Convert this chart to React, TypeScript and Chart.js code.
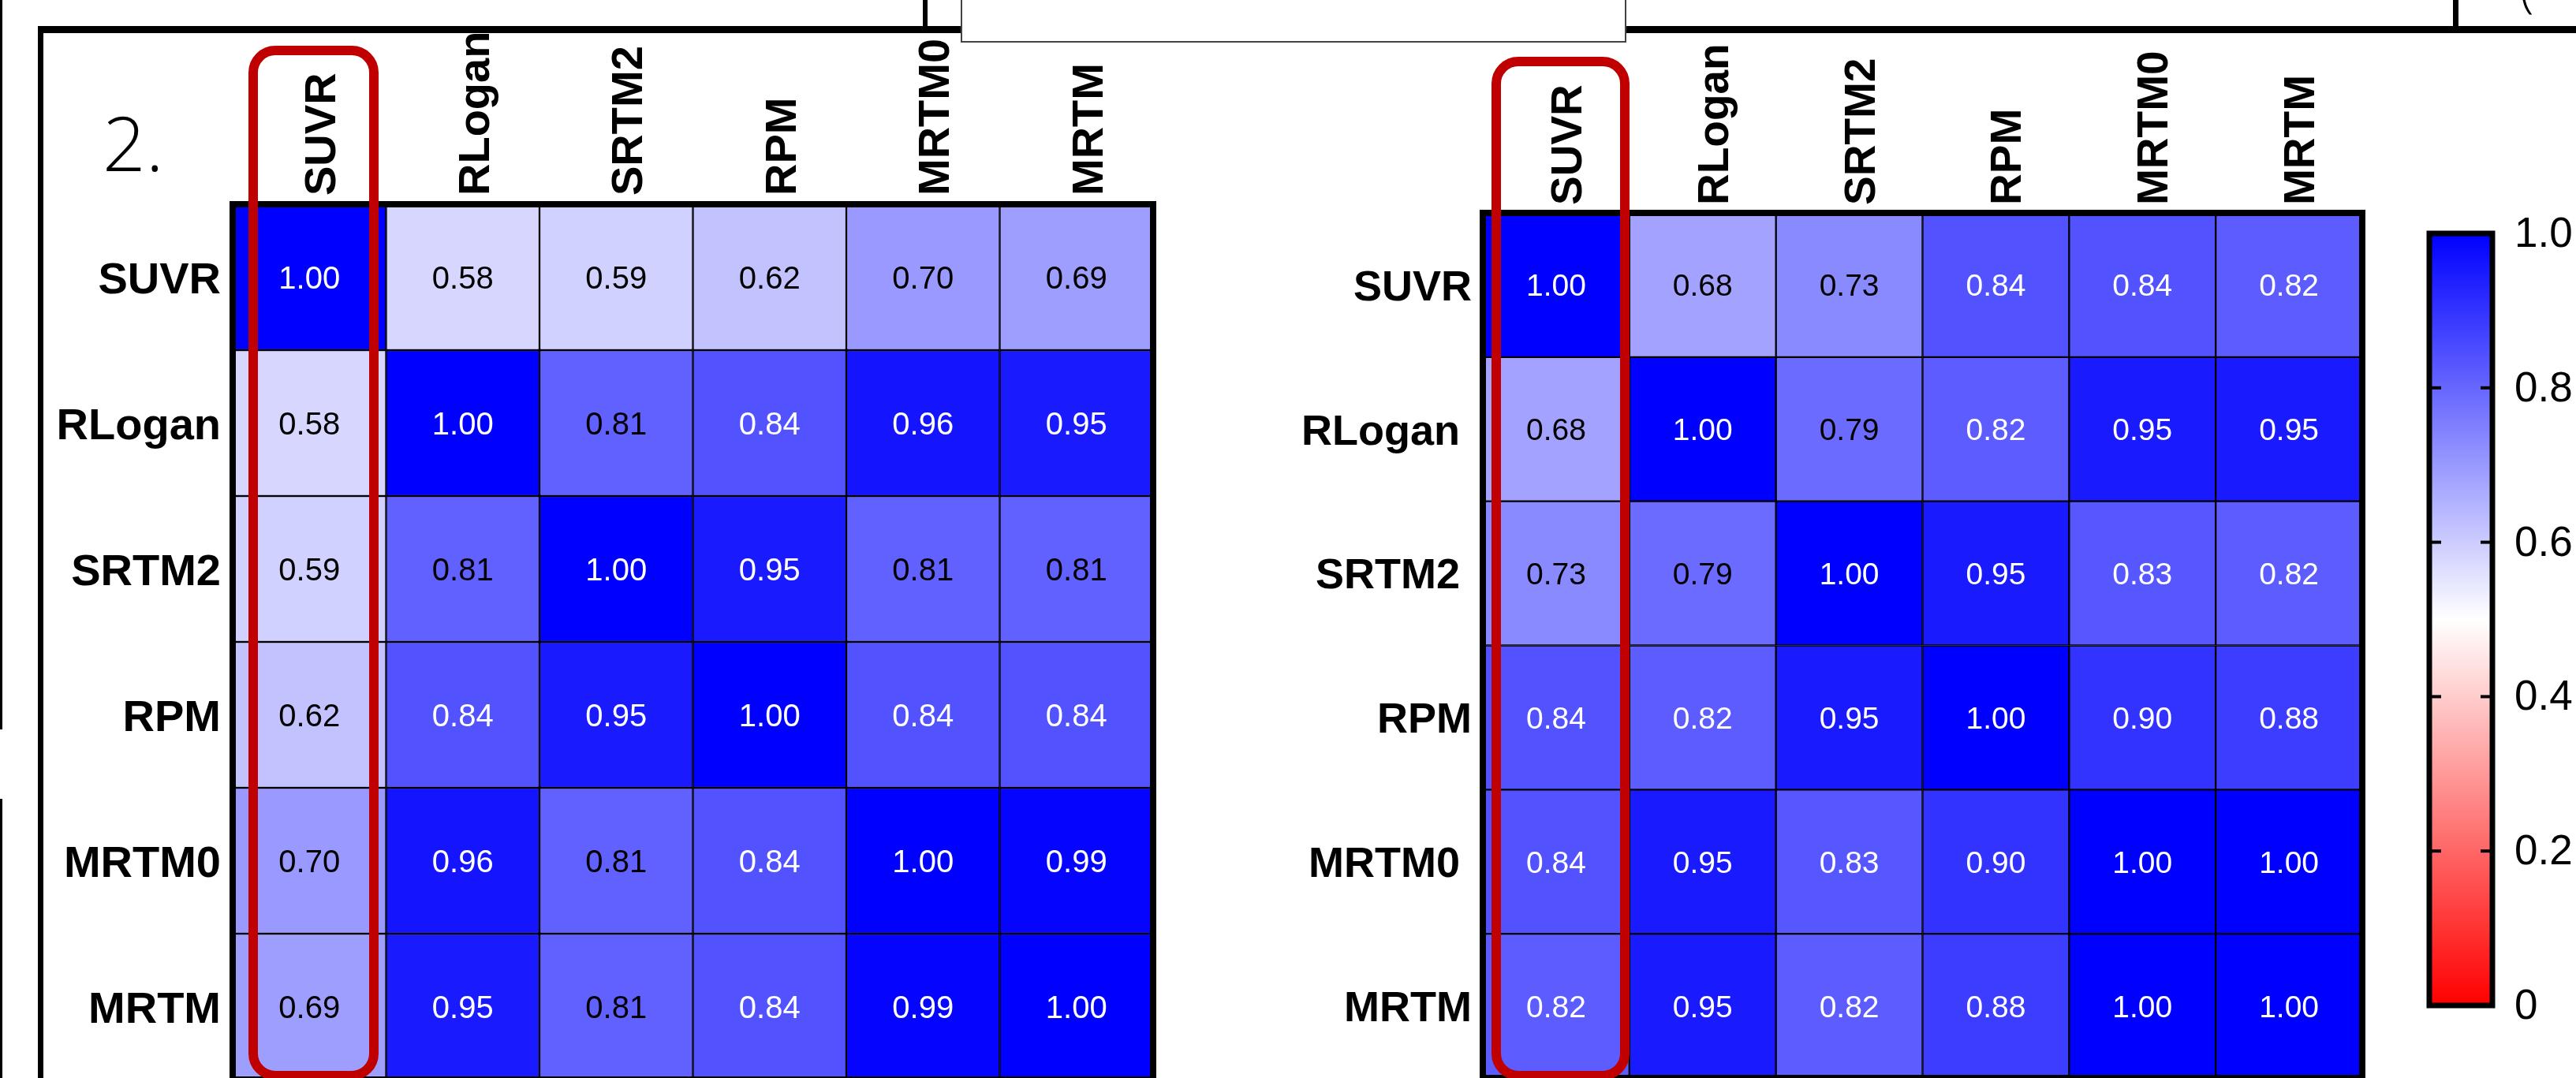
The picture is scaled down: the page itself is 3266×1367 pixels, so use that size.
import React, { useEffect, useRef } from 'react';
import { Chart, registerables } from 'chart.js';

Chart.register(...registerables);

// ---------- data ----------
const methods = ['SUVR', 'RLogan', 'SRTM2', 'RPM', 'MRTM0', 'MRTM'];
const rowLabelsLeft = ['SUVR', 'RLogan', 'SRTM2', 'RPM', 'MRTM0', 'MRTM'];
const rowLabelsRight = ['SUVR', 'RLogan ', 'SRTM2 ', 'RPM', 'MRTM0 ', 'MRTM'];

const leftSUVR = [1.0, 0.58, 0.59, 0.62, 0.7, 0.69];
const leftRLogan = [0.58, 1.0, 0.81, 0.84, 0.96, 0.95];
const leftSRTM2 = [0.59, 0.81, 1.0, 0.95, 0.81, 0.81];
const leftRPM = [0.62, 0.84, 0.95, 1.0, 0.84, 0.84];
const leftMRTM0 = [0.7, 0.96, 0.81, 0.84, 1.0, 0.99];
const leftMRTM = [0.69, 0.95, 0.81, 0.84, 0.99, 1.0];

const rightSUVR = [1.0, 0.68, 0.73, 0.84, 0.84, 0.82];
const rightRLogan = [0.68, 1.0, 0.79, 0.82, 0.95, 0.95];
const rightSRTM2 = [0.73, 0.79, 1.0, 0.95, 0.83, 0.82];
const rightRPM = [0.84, 0.82, 0.95, 1.0, 0.9, 0.88];
const rightMRTM0 = [0.84, 0.95, 0.83, 0.9, 1.0, 1.0];
const rightMRTM = [0.82, 0.95, 0.82, 0.88, 1.0, 1.0];

const leftRows = [leftSUVR, leftRLogan, leftSRTM2, leftRPM, leftMRTM0, leftMRTM];
const rightRows = [rightSUVR, rightRLogan, rightSRTM2, rightRPM, rightMRTM0, rightMRTM];

const colorbarTicks = [0, 0.2, 0.4, 0.6, 0.8, 1.0];
const colorbarTickLabels = ['0', '0.2', '0.4', '0.6', '0.8', '1.0'];
const colorbarStops = [0, 0.5, 1.0];
const colorbarStopColors = ['#ff0000', '#ffffff', '#0000ff'];

const panelTag = '2.';

// ---------- layout ----------
const W = 3266;
const H = 1400;
const FONT = '"Liberation Sans", Arial, Helvetica, sans-serif';

type Panel = {
  padding: { left: number; top: number; right: number; bottom: number };
  valueFont: number;
  rowFont: number;
  colFont: number;
  rowGap: number;
  colGap: number;
  colShift: number;
  redBox: { x0: number; x1: number; y0: number; y1: number; r: number };
};

const leftPanel: Panel = {
  padding: { left: 295, top: 259, right: W - 1462, bottom: H - 1369 },
  valueFont: 40,
  rowFont: 56,
  colFont: 56,
  rowGap: 15,
  colGap: 11,
  colShift: 33,
  redBox: { x0: 321, x1: 474, y0: 64, y1: 1364, r: 28 },
};

const rightPanel: Panel = {
  padding: { left: 1880, top: 270, right: W - 2995, bottom: H - 1367 },
  valueFont: 39,
  rowFont: 54,
  colFont: 55,
  rowGap: 14,
  colGap: 10,
  colShift: 32,
  redBox: { x0: 1897, x1: 2060, y0: 78, y1: 1364, r: 28 },
};

function cellColor(v: number): string {
  if (v >= 0.5) {
    const c = Math.round(255 * (1 - (v - 0.5) / 0.5));
    return `rgb(${c},${c},255)`;
  }
  const c = Math.round(255 * (v / 0.5));
  return `rgb(255,${c},${c})`;
}

function roundRectPath(ctx: CanvasRenderingContext2D, x0: number, y0: number, x1: number, y1: number, r: number) {
  ctx.beginPath();
  ctx.moveTo(x0 + r, y0);
  ctx.lineTo(x1 - r, y0);
  ctx.arcTo(x1, y0, x1, y0 + r, r);
  ctx.lineTo(x1, y1 - r);
  ctx.arcTo(x1, y1, x1 - r, y1, r);
  ctx.lineTo(x0 + r, y1);
  ctx.arcTo(x0, y1, x0, y1 - r, r);
  ctx.lineTo(x0, y0 + r);
  ctx.arcTo(x0, y0, x0 + r, y0, r);
  ctx.closePath();
}

function heatmapConfig(rows: number[][], rowLabels: string[], colLabels: string[], p: Panel, decorate?: (c: Chart) => void): any {
  const datasets = rows.map((row, i) => ({
    label: rowLabels[i],
    data: row.map(() => [i, i + 1]),
    backgroundColor: row.map(cellColor),
    borderColor: '#000000',
    borderWidth: 1.5,
    borderSkipped: false,
    barPercentage: 1,
    categoryPercentage: 1,
  }));
  const plugin = {
    id: 'heatmapText',
    afterDatasetsDraw(chart: any) {
      const ctx: CanvasRenderingContext2D = chart.ctx;
      const { left, right, top, bottom } = chart.chartArea;
      const xs = chart.scales.x;
      const ys = chart.scales.y;
      ctx.save();
      // values
      ctx.font = `${p.valueFont}px ${FONT}`;
      ctx.textAlign = 'center';
      ctx.textBaseline = 'alphabetic';
      rows.forEach((row, i) => {
        const meta = chart.getDatasetMeta(i);
        row.forEach((v, j) => {
          const el: any = meta.data[j];
          const cx = el.x;
          const cy = (el.y + el.base) / 2;
          ctx.fillStyle = v > 0.815 ? '#ffffff' : '#000000';
          ctx.fillText(v.toFixed(2), cx, cy + p.valueFont * 0.358);
        });
      });
      // outer border
      ctx.lineWidth = 8;
      ctx.strokeStyle = '#000000';
      ctx.strokeRect(left, top, right - left, bottom - top);
      // row labels
      ctx.fillStyle = '#000000';
      ctx.font = `bold ${p.rowFont}px ${FONT}`;
      ctx.textAlign = 'right';
      rowLabels.forEach((lab, i) => {
        const y = ys.getPixelForValue(i + 0.5);
        ctx.fillText(lab, left - p.rowGap, y + p.rowFont * 0.358);
      });
      // column labels (rotated)
      ctx.font = `bold ${p.colFont}px ${FONT}`;
      ctx.textAlign = 'left';
      colLabels.forEach((lab, j) => {
        const x = xs.getPixelForValue(j);
        ctx.save();
        ctx.translate(x + p.colShift, top - p.colGap);
        ctx.rotate(-Math.PI / 2);
        ctx.fillText(lab, 0, 0);
        ctx.restore();
      });
      ctx.restore();
    },
    afterDraw(chart: any) {
      const ctx: CanvasRenderingContext2D = chart.ctx;
      if (decorate) decorate(chart);
      const b = p.redBox;
      ctx.save();
      ctx.strokeStyle = '#c00000';
      ctx.lineWidth = 12;
      roundRectPath(ctx, b.x0, b.y0, b.x1, b.y1, b.r);
      ctx.stroke();
      ctx.restore();
    },
  };
  return {
    type: 'bar',
    data: { labels: colLabels, datasets },
    options: {
      animation: false,
      responsive: false,
      maintainAspectRatio: false,
      events: [],
      layout: { padding: p.padding },
      plugins: { legend: { display: false }, tooltip: { enabled: false } },
      scales: {
        x: { type: 'category', stacked: true, display: false, offset: true },
        y: { type: 'linear', min: 0, max: 6, reverse: true, display: false },
      },
    },
    plugins: [plugin],
  };
}

function drawFrame(chart: any) {
  const ctx: CanvasRenderingContext2D = chart.ctx;
  ctx.save();
  ctx.fillStyle = '#000000';
  // far-left partial line
  ctx.fillRect(0, 0, 3, 925);
  ctx.fillRect(0, 1013, 3, 360);
  // panel frame: top line and left line
  ctx.fillRect(48, 33, W - 48, 9);
  ctx.fillRect(48, 33, 7, 1400);
  // short vertical strokes at the top
  ctx.fillRect(1170, 0, 6, 42);
  ctx.fillRect(3110, 0, 7, 42);
  // white label box
  ctx.fillStyle = '#ffffff';
  ctx.fillRect(1219, -4, 842, 57);
  ctx.strokeStyle = '#444444';
  ctx.lineWidth = 2;
  ctx.beginPath();
  ctx.moveTo(1219, 0);
  ctx.lineTo(1219, 53);
  ctx.lineTo(2061, 53);
  ctx.lineTo(2061, 0);
  ctx.stroke();
  // panel tag
  ctx.fillStyle = '#000000';
  ctx.font = `300 96px "Open Sans", "Noto Sans", sans-serif`;
  ctx.textAlign = 'left';
  ctx.textBaseline = 'alphabetic';
  ctx.fillText(panelTag, 130, 217);
  // cropped glyph at top right
  ctx.font = `300 64px "Open Sans", "Noto Sans", sans-serif`;
  ctx.fillText('(', 3195, 8);
  ctx.restore();
}

function colorbarConfig(): any {
  const plugin = {
    id: 'colorbarDeco',
    afterDatasetsDraw(chart: any) {
      const ctx: CanvasRenderingContext2D = chart.ctx;
      const { left, right, top, bottom } = chart.chartArea;
      const ys = chart.scales.y;
      ctx.save();
      ctx.strokeStyle = '#000000';
      ctx.lineWidth = 7;
      ctx.strokeRect(left, top, right - left, bottom - top);
      ctx.fillStyle = '#000000';
      colorbarTicks.forEach((t, k) => {
        const y = ys.getPixelForValue(t);
        if (t > 0 && t < 1) {
          ctx.fillRect(left, y - 2, 15, 4);
          ctx.fillRect(right - 15, y - 2, 15, 4);
        }
        ctx.font = `53px ${FONT}`;
        ctx.textAlign = 'left';
        ctx.textBaseline = 'alphabetic';
        ctx.fillText(colorbarTickLabels[k], right + 28, y + 17);
      });
      ctx.restore();
    },
  };
  return {
    type: 'bar',
    data: {
      labels: ['scale'],
      datasets: [
        {
          data: [[colorbarTicks[0], colorbarTicks[colorbarTicks.length - 1]]],
          backgroundColor: (c: any) => {
            const chart = c.chart;
            const ys = chart.scales.y;
            if (!chart.chartArea || !ys) return '#0000ff';
            const y0 = ys.getPixelForValue(0);
            const y1 = ys.getPixelForValue(1);
            const g = chart.ctx.createLinearGradient(0, y0, 0, y1);
            colorbarStops.forEach((s, i) => g.addColorStop(s, colorbarStopColors[i]));
            return g;
          },
          borderWidth: 0,
          barPercentage: 1,
          categoryPercentage: 1,
        },
      ],
    },
    options: {
      animation: false,
      responsive: false,
      maintainAspectRatio: false,
      events: [],
      layout: { padding: { left: 3080, top: 296, right: W - 3160, bottom: H - 1275 } },
      plugins: { legend: { display: false }, tooltip: { enabled: false } },
      scales: {
        x: { type: 'category', display: false, offset: true },
        y: { type: 'linear', min: 0, max: 1, display: false },
      },
    },
    plugins: [plugin],
  };
}

export default function App() {
  const leftRef = useRef<HTMLCanvasElement>(null);
  const rightRef = useRef<HTMLCanvasElement>(null);
  const barRef = useRef<HTMLCanvasElement>(null);

  useEffect(() => {
    const charts: Chart[] = [];
    if (leftRef.current) {
      charts.push(new Chart(leftRef.current, heatmapConfig(leftRows, rowLabelsLeft, methods, leftPanel, drawFrame)));
    }
    if (rightRef.current) {
      charts.push(new Chart(rightRef.current, heatmapConfig(rightRows, rowLabelsRight, methods, rightPanel)));
    }
    if (barRef.current) {
      charts.push(new Chart(barRef.current, colorbarConfig()));
    }
    return () => charts.forEach((c) => c.destroy());
  }, []);

  const canvasStyle: React.CSSProperties = {
    position: 'absolute',
    left: 0,
    top: 0,
    width: `${W}px`,
    height: `${H}px`,
  };

  return (
    <div
      style={{
        position: 'fixed',
        left: 0,
        top: 0,
        width: '3266px',
        height: '1367px',
        overflow: 'hidden',
        background: '#ffffff',
      }}
    >
      <canvas ref={leftRef} width={W} height={H} style={canvasStyle} />
      <canvas ref={rightRef} width={W} height={H} style={canvasStyle} />
      <canvas ref={barRef} width={W} height={H} style={canvasStyle} />
    </div>
  );
}
